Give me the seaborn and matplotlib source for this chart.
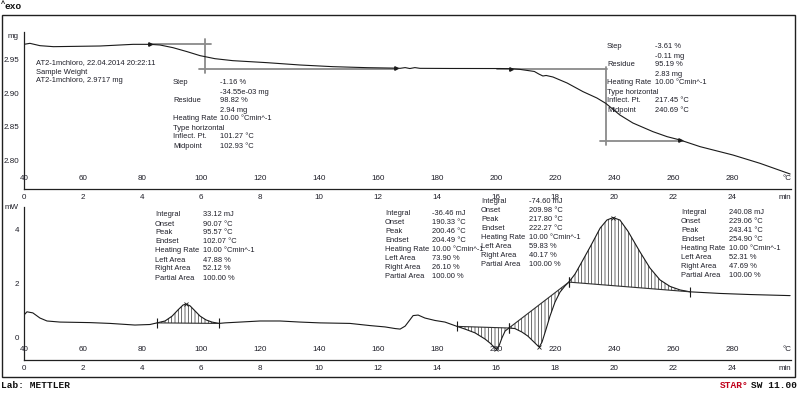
import numpy as np
import pandas as pd
import matplotlib
matplotlib.use("Agg")
import matplotlib.pyplot as plt
import seaborn as sns
from matplotlib.patches import Rectangle

# ---------------- data ----------------
tga_temp = [40, 42, 45.4, 50, 65.8, 77, 82.7, 86.1, 90.5, 95.3, 99.7, 101.4, 104.7,
            110.8, 122.4, 133.6, 144.7, 156.3, 165.8, 167.5, 169.2, 170.8, 172.5,
            174.2, 184.4, 201.4, 205, 208, 213, 214.5, 215.9, 217, 219.3, 224.1,
            229.5, 234.2, 237.2, 242, 246.4, 253.2, 258, 262.4, 269.2, 280.3,
            289.5, 299.7]
tga_mass = [2.9735, 2.975, 2.9715, 2.970, 2.971, 2.9735, 2.9735, 2.9725, 2.9685,
            2.9625, 2.9565, 2.955, 2.952, 2.949, 2.946, 2.9425, 2.940, 2.9385,
            2.9378, 2.9375, 2.9386, 2.9372, 2.9386, 2.9375, 2.9373, 2.9372, 2.937,
            2.936, 2.9328, 2.929, 2.926, 2.9268, 2.9245, 2.9155, 2.9025, 2.893,
            2.885, 2.8675, 2.8555, 2.8425, 2.835, 2.830, 2.820, 2.8075, 2.795, 2.779]

dsc_temp = [40, 41, 43, 45.4, 47.8, 52.2, 62.4, 69.2, 77.6, 82.7, 85.1, 87.8, 90.2,
            92.2, 93.9, 94.9, 96.3, 98, 99.7, 101.7, 103.7, 106.1, 108.1, 113.2,
            120, 126.8, 133.6, 140.3, 150.5, 157.3, 162.4, 165.8, 167.5, 169.2,
            170.8, 171.9, 173.6, 175.9, 179.3, 182.7, 186.8, 189.5, 192.9, 196.3,
            198, 199.3, 200, 201, 202, 203.1, 204.4, 206.4, 208.8, 210.8, 212.5,
            213.9, 214.7, 215.6, 216.9, 218.3, 220, 221.7, 223.4, 224.7, 226.8,
            228.5, 231.9, 235.3, 237.6, 239.7, 242, 244.7, 248.8, 252.2, 255.6,
            259, 262.4, 265.8, 276, 286.1, 299.7]
dsc_mw = [0.85, 0.97, 0.93, 0.74, 0.63, 0.59, 0.57, 0.54, 0.48, 0.50, 0.56, 0.63,
          0.81, 1.04, 1.22, 1.26, 1.19, 1.00, 0.81, 0.67, 0.59, 0.54, 0.56, 0.59,
          0.63, 0.63, 0.59, 0.56, 0.54, 0.46, 0.41, 0.35, 0.33, 0.44, 0.67, 0.83,
          0.85, 0.74, 0.65, 0.59, 0.43, 0.33, 0.19, -0.04, -0.19, -0.33, -0.39,
          -0.30, 0.0, 0.26, 0.37, 0.35, 0.22, 0.07, -0.11, -0.26, -0.33, -0.15,
          0.30, 0.81, 1.33, 1.70, 1.93, 2.07, 2.37, 2.70, 3.37, 4.07, 4.37, 4.46,
          4.37, 3.96, 3.19, 2.59, 2.15, 1.91, 1.78, 1.71, 1.65, 1.61, 1.57]

# integration limits (°C) of the four DSC peaks
peak_limits = [(85.1, 106.1), (186.8, 204.4), (204.4, 224.7), (224.7, 265.8)]
peak_tops = [(94.9, 1.26), (200.0, -0.39), (214.7, -0.33), (239.7, 4.46)]

# TGA step evaluation lines (°C, mg)
step_upper = [((82.7, 103.3), 2.9735), ((200.3, 237.6), 2.9365)]
step_lower = [((99.3, 165.8), 2.937), ((235.3, 263.4), 2.829)]
step_vert = [(101.4, (2.9305, 2.9815)), (237.2, (2.8225, 2.940))]
step_marks = [(82.7, 2.9735), (166.0, 2.9380), (205.0, 2.9372), (262.5, 2.830)]

temp_ticks = [40, 60, 80, 100, 120, 140, 160, 180, 200, 220, 240, 260, 280]
time_ticks = [0, 2, 4, 6, 8, 10, 12, 14, 16, 18, 20, 22, 24]
tga_yticks = [2.95, 2.90, 2.85, 2.80]
tga_ylabels = ["2.95", "2.90", "2.85", "2.80"]
dsc_yticks = [0, 2, 4]
dsc_ylabels = ["0", "2", "4"]

header_info = ["AT2-1mchloro, 22.04.2014 20:22:11", "Sample Weight",
               "AT2-1mchloro, 2.9717 mg"]
step1_rows = [("Step", "-1.16 %"), ("", "-34.55e-03 mg"), ("Residue", "98.82 %"),
              ("", "2.94 mg"), ("Heating Rate", "10.00 °Cmin^-1"),
              ("Type horizontal", ""), ("Inflect. Pt.", "101.27 °C"),
              ("Midpoint", "102.93 °C")]
step2_rows = [("Step", "-3.61 %"), ("", "-0.11 mg"), ("Residue", "95.19 %"),
              ("", "2.83 mg"), ("Heating Rate", "10.00 °Cmin^-1"),
              ("Type horizontal", ""), ("Inflect. Pt.", "217.45 °C"),
              ("Midpoint", "240.69 °C")]
peak_labels = ["Integral", "Onset", "Peak", "Endset", "Heating Rate",
               "Left Area", "Right Area", "Partial Area"]
peakA_vals = ["33.12 mJ", "90.07 °C", "95.57 °C", "102.07 °C", "10.00 °Cmin^-1",
              "47.88 %", "52.12 %", "100.00 %"]
peakB_vals = ["-36.46 mJ", "190.33 °C", "200.46 °C", "204.49 °C", "10.00 °Cmin^-1",
              "73.90 %", "26.10 %", "100.00 %"]
peakC_vals = ["-74.60 mJ", "209.98 °C", "217.80 °C", "222.27 °C", "10.00 °Cmin^-1",
              "59.83 %", "40.17 %", "100.00 %"]
peakD_vals = ["240.08 mJ", "229.06 °C", "243.41 °C", "254.90 °C", "10.00 °Cmin^-1",
              "52.31 %", "47.69 %", "100.00 %"]

# ---------------- style ----------------
sns.set_theme(style="white")
plt.rcParams["font.family"] = ["Liberation Sans", "DejaVu Sans"]
plt.rcParams["hatch.linewidth"] = 0.5
TXT = "#1e1e28"
FS = 5.4
W, H = 800, 393

fig = plt.figure(figsize=(8, 3.93), dpi=100)
fig.patch.set_facecolor("white")


def fpos(x, y):
    return x / W, 1 - y / H


# outer frame
fig.patches.append(Rectangle(fpos(2, 377), 793 / W, 362 / H, transform=fig.transFigure,
                             fill=False, edgecolor="#202020", linewidth=1.0))

x0, x1 = 24, 791
ax_t = fig.add_axes([x0 / W, 1 - 189 / H, (x1 - x0) / W, (189 - 32) / H])
ax_b = fig.add_axes([x0 / W, 1 - 360 / H, (x1 - x0) / W, (360 - 207) / H])

# ---------------- TGA ----------------
df_t = pd.DataFrame({"T": tga_temp, "mg": tga_mass})
sns.lineplot(data=df_t, x="T", y="mg", ax=ax_t, color="#1a1a1a", linewidth=0.8,
             estimator=None)
GR = "#8a8a8a"
for (xa, xb), yv in step_upper + step_lower:
    ax_t.plot([xa, xb], [yv, yv], color=GR, linewidth=1.3, zorder=1)
for xv, (ya, yb) in step_vert:
    ax_t.plot([xv, xv], [ya, yb], color=GR, linewidth=1.3, zorder=1)
for xv, yv in step_marks:
    ax_t.plot([xv], [yv], marker=">", markersize=2.5, color="#1a1a1a", zorder=3)

# ---------------- DSC ----------------
df_b = pd.DataFrame({"T": dsc_temp, "mW": dsc_mw})
sns.lineplot(data=df_b, x="T", y="mW", ax=ax_b, color="#1a1a1a", linewidth=0.8,
             estimator=None)
tarr = np.array(dsc_temp)
marr = np.array(dsc_mw)
for a, b in peak_limits:
    m = (tarr >= a - 1e-9) & (tarr <= b + 1e-9)
    xs = tarr[m]
    ys = marr[m]
    base = np.interp(xs, [a, b], [ys[0], ys[-1]])
    ax_b.plot([a, b], [ys[0], ys[-1]], color="#303030", linewidth=0.8, zorder=2)
    ax_b.fill_between(xs, ys, base, facecolor="none", edgecolor="#303030",
                      hatch="|||||", linewidth=0, zorder=1)
    for xv, yv in ((a, ys[0]), (b, ys[-1])):
        ax_b.plot([xv], [yv], marker="|", markersize=7, markeredgewidth=0.8,
                  color="#1a1a1a", zorder=3)
for xv, yv in peak_tops:
    ax_b.plot([xv], [yv], marker="x", markersize=2.5, markeredgewidth=0.6,
              color="#1a1a1a", zorder=3)

# ---------------- axes styling ----------------
ax_t.set_ylim(2.95 - (189 - 60) * 0.0015, 2.95 + (60 - 32) * 0.0015)
ax_b.set_ylim((338 - 360) / 27, (338 - 207) / 27)

for ax in (ax_t, ax_b):
    ax.set_facecolor("none")
    ax.set_xlim(40, 300)
    ax.set_xlabel("")
    ax.set_ylabel("")
    for s in ("top", "right"):
        ax.spines[s].set_visible(False)
    for s in ("left", "bottom"):
        ax.spines[s].set_color("#202020")
        ax.spines[s].set_linewidth(0.9)
    ax.set_xticks(temp_ticks + [300])
    ax.set_xticklabels([str(t) for t in time_ticks] + [""])
    ax.set_xticks(np.arange(50, 300, 20), minor=True)
    ax.tick_params(axis="x", which="major", direction="inout", length=6.5, width=0.8,
                   pad=0.5, labelsize=5.8, colors="#202020", labelcolor=TXT)
    ax.tick_params(axis="x", which="minor", direction="inout", length=3.5, width=0.8,
                   colors="#202020")
    ax.tick_params(axis="y", which="major", direction="out", length=2.5, width=0.8,
                   pad=1, labelsize=5.8, colors="#202020", labelcolor=TXT)
    for t in temp_ticks:
        ax.annotate(str(t), xy=(t, 0), xycoords=("data", "axes fraction"),
                    xytext=(0, 7.5), textcoords="offset points", ha="center",
                    va="center", fontsize=5.8, color=TXT)
    ax.annotate("°C", xy=(298.5, 0), xycoords=("data", "axes fraction"),
                xytext=(0, 7.5), textcoords="offset points", ha="center",
                va="center", fontsize=5.8, color=TXT)
    ax.annotate("min", xy=(298.0, 0), xycoords=("data", "axes fraction"),
                xytext=(0, -6.3), textcoords="offset points", ha="center",
                va="center", fontsize=5.8, color=TXT)

ax_t.set_yticks(tga_yticks)
ax_t.set_yticklabels(tga_ylabels)
ax_b.set_yticks(dsc_yticks)
ax_b.set_yticklabels(dsc_ylabels)


# ---------------- texts ----------------
def ftext(x, y, s, **kw):
    fx, fy = fpos(x, y)
    kw.setdefault("fontsize", FS)
    kw.setdefault("color", TXT)
    kw.setdefault("va", "center")
    kw.setdefault("ha", "left")
    fig.text(fx, fy, s, **kw)


ftext(8, 36, "mg", fontsize=5.8)
ftext(5, 208, "mW", fontsize=5.8)

for i, s in enumerate(header_info):
    ftext(36, 63 + 9 * i, s)


def block(rows, lx, vx, y0, dy=9):
    for i, (lab, val) in enumerate(rows):
        if lab:
            ftext(lx, y0 + dy * i, lab)
        if val:
            ftext(vx, y0 + dy * i, val)


block(step1_rows, 173, 220, 83)
block(step2_rows, 607, 655, 47)
block(list(zip(peak_labels, peakA_vals)), 155, 203, 215)
block(list(zip(peak_labels, peakB_vals)), 385, 432, 213.3)
block(list(zip(peak_labels, peakC_vals)), 481, 529, 201.7)
block(list(zip(peak_labels, peakD_vals)), 681, 729, 212.3)

mono = ["Liberation Mono", "DejaVu Sans Mono"]
ftext(0.5, 4, "^", family=mono, fontsize=5, fontweight="bold", color="#101010")
ftext(4.5, 6.5, "exo", family=mono, fontsize=6.8, fontweight="bold", color="#101010")
ftext(1, 385, "Lab: METTLER", family=mono, fontsize=6.8, fontweight="bold",
      color="#101010")
ftext(797, 385, "SW 11.00", family=mono, fontsize=6.8, fontweight="bold",
      color="#101010", ha="right")
ftext(749, 385, "STAR°", family=mono, fontsize=6.8, fontweight="bold",
      color="#c0001a", ha="right")

fig.savefig("out.png", dpi=100, facecolor="white")
